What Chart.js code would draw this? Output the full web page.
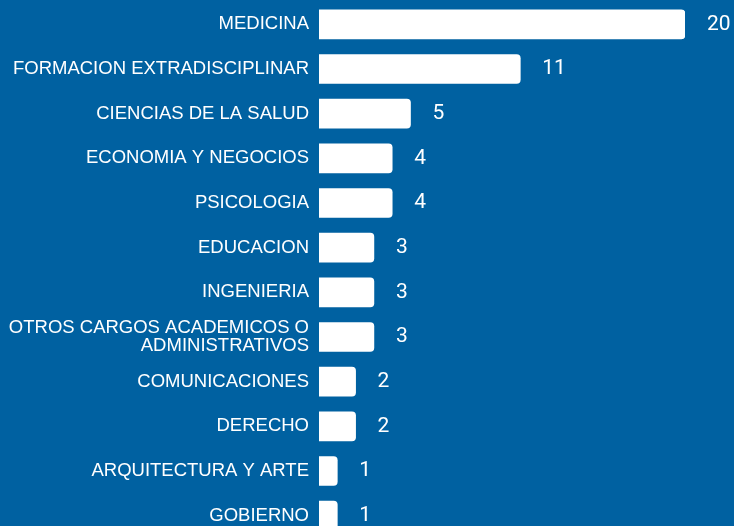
<!DOCTYPE html>
<html>
<head>
<meta charset="utf-8">
<script src="https://cdn.jsdelivr.net/npm/chart.js@4/dist/chart.umd.min.js"></script>
<style>
  html, body { margin: 0; padding: 0; background: #0061a1; overflow: hidden; }
  #wrap { position: relative; width: 734px; height: 542px; }
</style>
</head>
<body>
<div id="wrap"><canvas id="chart"></canvas></div>
<script>
const categories = [
  "MEDICINA",
  "FORMACION EXTRADISCIPLINAR",
  "CIENCIAS DE LA SALUD",
  "ECONOMIA Y NEGOCIOS",
  "PSICOLOGIA",
  "EDUCACION",
  "INGENIERIA",
  ["OTROS CARGOS ACADEMICOS O", "ADMINISTRATIVOS"],
  "COMUNICACIONES",
  "DERECHO",
  "ARQUITECTURA Y ARTE",
  "GOBIERNO",
];
const counts = [20, 11, 5, 4, 4, 3, 3, 3, 2, 2, 1, 1];

/* value labels drawn at the end of each bar */
const valueLabels = {
  id: "valueLabels",
  afterDatasetsDraw(chart) {
    const { ctx } = chart;
    const meta = chart.getDatasetMeta(0);
    ctx.save();
    ctx.fillStyle = "#ffffff";
    ctx.font = "21px Roboto";
    ctx.textAlign = "left";
    ctx.textBaseline = "middle";
    meta.data.forEach((bar, i) => {
      ctx.fillText(String(counts[i]), bar.x + 22, bar.y);
    });
    ctx.restore();
  },
};

new Chart(document.getElementById("chart"), {
  type: "bar",
  data: {
    labels: categories,
    datasets: [
      {
        data: counts,
        backgroundColor: "#ffffff",
        borderRadius: 4,
        barThickness: 29,
      },
    ],
  },
  options: {
    indexAxis: "y",
    responsive: true,
    maintainAspectRatio: false,
    animation: false,
    layout: { padding: { top: 2, bottom: 4, right: 49, left: 0 } },
    plugins: {
      legend: { display: false },
      tooltip: { enabled: false },
    },
    scales: {
      x: {
        display: false,
        min: 0,
        max: 20,
      },
      y: {
        grid: { display: false, drawTicks: false },
        border: { display: false },
        ticks: {
          color: "#ffffff",
          font: { family: "'Liberation Sans', Arial, sans-serif", size: 18.5, lineHeight: 1 },
          padding: 10,
          autoSkip: false,
        },
        afterFit: (scale) => {
          scale.width = 319;
          scale.paddingTop = 0;
          scale.paddingBottom = 0;
        },
      },
    },
  },
  plugins: [valueLabels],
});
</script>
</body>
</html>
